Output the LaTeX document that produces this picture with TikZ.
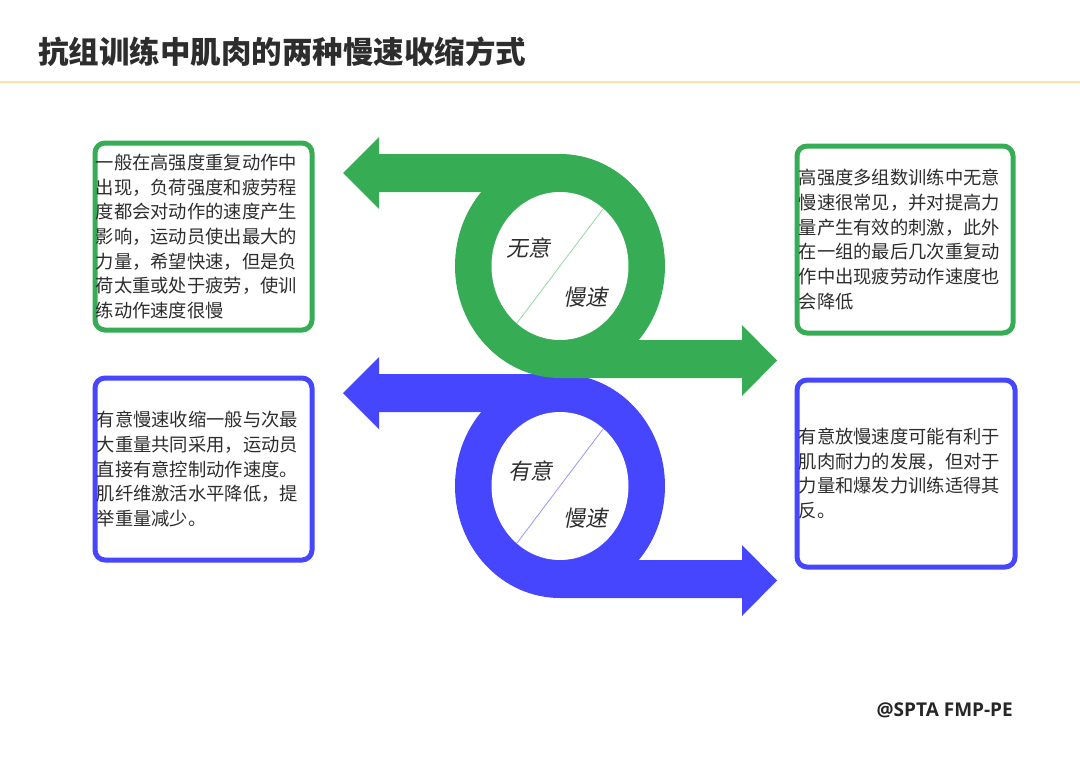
\documentclass[tikz,border=0pt]{standalone}
\usepackage{fontspec}
\setmainfont{Noto Sans CJK SC}
\newfontfamily\slantfont[FakeSlant=0.2]{Noto Sans CJK SC}
\newfontfamily\footfont{Open Sans}

\definecolor{loopgreen}{RGB}{54,172,85}
\definecolor{loopblue}{RGB}{70,70,255}
\definecolor{lightgreen}{RGB}{150,215,165}
\definecolor{lightblue}{RGB}{150,150,255}
\definecolor{textgray}{RGB}{45,45,45}
\definecolor{ruleyellow}{RGB}{252,228,160}

\tikzstyle{greenbox}=[draw=loopgreen,line width=5pt,rounded corners=10pt,inner sep=0pt]
\tikzstyle{bluebox}=[draw=loopblue,line width=5pt,rounded corners=10pt,inner sep=0pt]
\tikzstyle{txt}=[anchor=west,align=left,inner sep=0pt,text=textgray,font=\fontsize{18.3}{24.7}\selectfont]
\tikzstyle{word}=[inner sep=0pt,text=textgray,font=\slantfont\fontsize{22}{22}\selectfont]

\begin{document}
\begin{tikzpicture}[x=1pt,y=-1pt]
	\useasboundingbox (0,0) rectangle (1080,763);
	
	\node[anchor=west,inner sep=0pt,text=textgray,font=\bfseries\fontsize{30.5}{30.5}\selectfont] (title) at (38,52) {抗组训练中肌肉的两种慢速收缩方式};
	\draw[ruleyellow,line width=2pt] (0,82) -- (1080,82);
	
	\begin{scope}[shift={(0,220)}]
		\fill[loopblue] (560,266) ellipse [x radius=105,y radius=112];
		\fill[loopblue] (560,154) -- (379,154) -- (379,137) -- (343,173) -- (379,209) -- (379,192) -- (560,192) -- cycle;
		\fill[loopblue] (560,340) -- (742,340) -- (742,325) -- (777,360.5) -- (742,396) -- (742,378) -- (560,378) -- cycle;
		\fill[white] (560,266) ellipse [x radius=68.5,y radius=74];
		\draw[lightblue,line width=0.8pt] (603,209) -- (517,323);
		\node[word] (w3) at (530,251) {有意};
		\node[word] (w4) at (585,298) {慢速};
	\end{scope}
	
	\fill[loopgreen] (560,266) ellipse [x radius=105,y radius=112];
	\fill[loopgreen] (560,154) -- (379,154) -- (379,137) -- (343,173) -- (379,209) -- (379,192) -- (560,192) -- cycle;
	\fill[loopgreen] (560,340) -- (742,340) -- (742,325) -- (777,360.5) -- (742,396) -- (742,378) -- (560,378) -- cycle;
	\fill[white] (560,266) ellipse [x radius=68.5,y radius=74];
	\draw[lightgreen,line width=0.8pt] (603,209) -- (517,323);
	\node[word] (w1) at (528,248) {无意};
	\node[word] (w2) at (585,297) {慢速};
	
	\node[greenbox,minimum width=217,minimum height=187] (b1) at (203.5,236.5) {};
	\node[greenbox,minimum width=216,minimum height=187] (b2) at (905,239.5) {};
	\node[bluebox,minimum width=217,minimum height=182] (b3) at (203.5,469) {};
	\node[bluebox,minimum width=218,minimum height=187] (b4) at (906,473.5) {};
	
	\node[txt] (t1) at ([xshift=3]b1.west) {一般在高强度重复动作中\\出现，负荷强度和疲劳程\\度都会对动作的速度产生\\影响，运动员使出最大的\\力量，希望快速，但是负\\荷太重或处于疲劳，使训\\练动作速度很慢};
	\node[txt] (t2) at ([xshift=4]b2.west) {高强度多组数训练中无意\\慢速很常见，并对提高力\\量产生有效的刺激，此外\\在一组的最后几次重复动\\作中出现疲劳动作速度也\\会降低};
	\node[txt] (t3) at ([xshift=4]b3.west) {有意慢速收缩一般与次最\\大重量共同采用，运动员\\直接有意控制动作速度。\\肌纤维激活水平降低，提\\举重量减少。};
	\node[txt] (t4) at ([xshift=4]b4.west) {有意放慢速度可能有利于\\肌肉耐力的发展，但对于\\力量和爆发力训练适得其\\反。};
	
	\node[anchor=east,inner sep=0pt,text=black!85,font=\footfont\bfseries\fontsize{19}{19}\selectfont] (foot) at (1013,710) {@SPTA FMP-PE};
\end{tikzpicture}
\end{document}
